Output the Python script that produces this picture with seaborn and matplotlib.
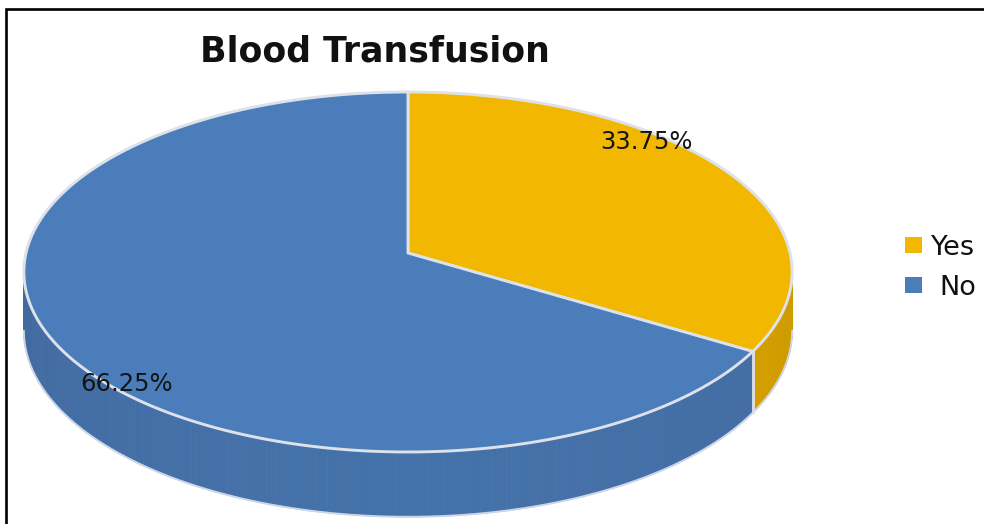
import numpy as np
import matplotlib
matplotlib.use("Agg")
import matplotlib.pyplot as plt
import seaborn as sns
from matplotlib.patches import Polygon, Rectangle
from matplotlib.collections import PolyCollection
from matplotlib.colors import to_rgb

# --- data -------------------------------------------------------------
title = "Blood Transfusion"
categories = ["Yes", "No"]
shares = [33.75, 66.25]
value_labels = ["33.75%", "66.25%"]

# --- styling ----------------------------------------------------------
top_colors = ["#F2B700", "#4A7DBA"]
side_colors = ["#DAA400", "#4571A9"]
rim_color = "#DDE2EA"
label_spots = [(0.945, 45.0), (0.966, 225.0)]   # (radius fraction, degrees clockwise from 12 o'clock)

sns.set_theme(style="white")
plt.rcParams["font.family"] = ["DejaVu Sans"]

W, H = 984, 524
fig = plt.figure(figsize=(W / 100, H / 100), dpi=100)
ax = fig.add_axes([0, 0, 1, 1])
ax.set_xlim(0, W)
ax.set_ylim(H, 0)
ax.axis("off")

# perspective disc geometry, in pixels
CX, CY = 408, 253
SX, SY = 382, 178
K = 0.1055
DEPTH = 58


def project(r, phi_deg, drop=0.0):
    phi = np.radians(phi_deg)
    X = r * np.sin(phi)
    Z = -r * np.cos(phi)
    w = 1 - K * Z
    return CX + SX * X / w, CY + SY * Z / w + drop / w


bounds = np.concatenate([[0], np.cumsum(shares)]) / np.sum(shares) * 360.0
front_lo = np.degrees(np.arccos(-K))
front_hi = 360.0 - front_lo

# side walls (front half only; back is hidden by the top face)
for i in range(len(shares)):
    a0, a1 = max(bounds[i], front_lo), min(bounds[i + 1], front_hi)
    if a1 <= a0:
        continue
    ang = np.linspace(a0, a1, 200)
    tx, ty = project(1.0, ang)
    bx, by = project(1.0, ang, DEPTH)
    quads, cols = [], []
    base = np.array(to_rgb(side_colors[i]))
    for j in range(len(ang) - 1):
        quads.append([(tx[j], ty[j]), (tx[j + 1], ty[j + 1]),
                      (bx[j + 1], by[j + 1]), (bx[j], by[j])])
        front = -np.cos(np.radians(0.5 * (ang[j] + ang[j + 1])))
        cols.append(np.clip(base * (0.93 + 0.07 * front), 0, 1))
    ax.add_collection(PolyCollection(quads, facecolors=cols, edgecolors=cols,
                                     linewidths=0.6, zorder=2))
    # lower rim edge
    ax.plot(bx, by, color="#CBD6E8", lw=1.4, zorder=3)

# seams on the side wall at slice boundaries
for b in bounds[:-1]:
    if front_lo < b < front_hi:
        x0, y0 = project(1.0, b)
        x1, y1 = project(1.0, b, DEPTH)
        ax.plot([x0, x1], [y0, y1], color=rim_color, lw=2.0, zorder=4)

# top faces
for i in range(len(shares)):
    ang = np.linspace(bounds[i], bounds[i + 1], 300)
    ex, ey = project(1.0, ang)
    pts = np.column_stack([np.r_[CX, ex], np.r_[CY, ey]])
    ax.add_patch(Polygon(pts, closed=True, facecolor=top_colors[i],
                         edgecolor=rim_color, lw=2.1, joinstyle="round", zorder=5))

# value labels
for lab, (r, phi) in zip(value_labels, label_spots):
    x, y = project(r, phi)
    ax.text(x, y, lab, fontsize=17.5, color="#141414", ha="center", va="center", zorder=6)

# title
ax.text(375, 62, title, fontsize=25, weight="bold", color="#111111",
        ha="center", va="baseline", zorder=6)

# legend
leg_x = [931, 939]
for i, cat in enumerate(categories):
    ytop = 237 + 40 * i
    ax.add_patch(Rectangle((905, ytop), 17, 16, facecolor=top_colors[i],
                           edgecolor="none", zorder=6))
    ax.text(leg_x[i], ytop + 18, cat, fontsize=19.5, color="#111111",
            ha="left", va="baseline", zorder=6)

# frame lines (left and top)
ax.plot([5.5, 5.5, W], [H, 9, 9], color="black", lw=1.9,
        solid_joinstyle="miter", zorder=7)

fig.savefig("out.png", dpi=100, facecolor="white")
